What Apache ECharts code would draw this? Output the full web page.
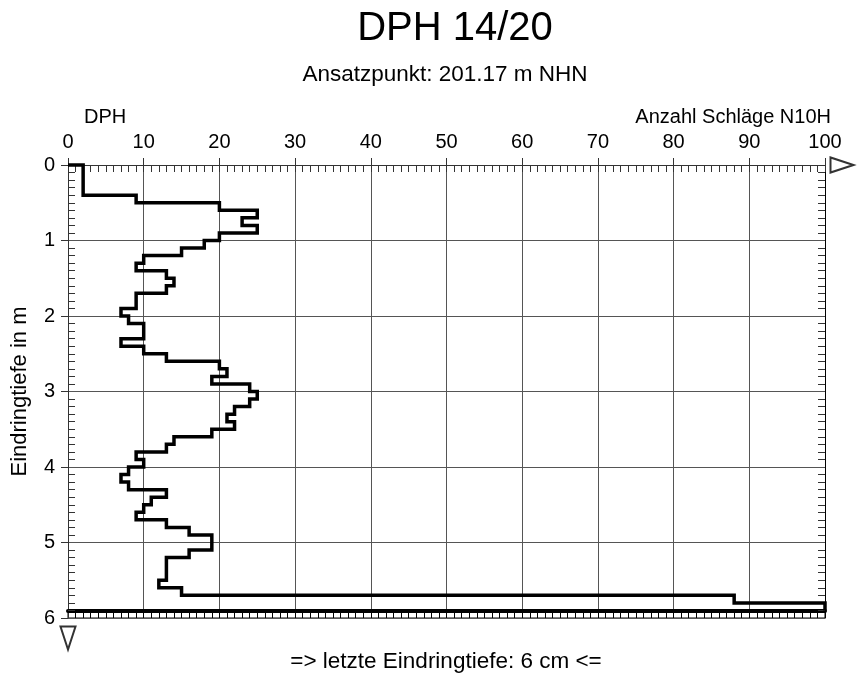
<!DOCTYPE html>
<html><head><meta charset="utf-8">
<script src="https://cdn.jsdelivr.net/npm/echarts@6/dist/echarts.min.js"></script>
<style>html,body{margin:0;padding:0;background:#fff}#c{width:857px;height:680px}</style>
</head><body><div id="c"></div>
<script>
const titleText = 'DPH 14/20';
const subtitleText = 'Ansatzpunkt: 201.17 m NHN';
const leftLabel = 'DPH';
const xAxisName = 'Anzahl Schläge N10H';
const yAxisName = 'Eindringtiefe in m';
const footerText = '=> letzte Eindringtiefe: 6 cm <=';

const xMin = 0, xMax = 100, xStep = 10;
const yMin = 0, yMax = 6, yStep = 1;

const depthFrom = [0.0,0.1,0.2,0.3,0.4,0.5,0.6,0.7,0.8,0.9,
  1.0,1.1,1.2,1.3,1.4,1.5,1.6,1.7,1.8,1.9,
  2.0,2.1,2.2,2.3,2.4,2.5,2.6,2.7,2.8,2.9,
  3.0,3.1,3.2,3.3,3.4,3.5,3.6,3.7,3.8,3.9,
  4.0,4.1,4.2,4.3,4.4,4.5,4.6,4.7,4.8,4.9,
  5.0,5.1,5.2,5.3,5.4,5.5,5.6,5.7,5.8];
const depthTo = [0.1,0.2,0.3,0.4,0.5,0.6,0.7,0.8,0.9,1.0,
  1.1,1.2,1.3,1.4,1.5,1.6,1.7,1.8,1.9,2.0,
  2.1,2.2,2.3,2.4,2.5,2.6,2.7,2.8,2.9,3.0,
  3.1,3.2,3.3,3.4,3.5,3.6,3.7,3.8,3.9,4.0,
  4.1,4.2,4.3,4.4,4.5,4.6,4.7,4.8,4.9,5.0,
  5.1,5.2,5.3,5.4,5.5,5.6,5.7,5.8,5.9];
const blows = [2,2,2,2,9,20,25,23,25,20,
  18,15,10,9,13,14,13,9,9,7,
  8,10,10,7,10,13,20,21,19,24,
  25,24,22,21,22,19,14,13,9,10,
  8,7,8,13,11,10,9,13,16,19,
  19,16,13,13,13,12,15,88,100];

const points = [[0, depthFrom[0]]];
for (let i = 0; i < blows.length; i++) {
  points.push([blows[i], depthFrom[i]]);
  points.push([blows[i], depthTo[i]]);
}

const FONT = "'Liberation Sans', Arial, sans-serif";
const G = {left: 68, right: 32, top: 165, height: 453};

const chart = echarts.init(document.getElementById('c'), null, {renderer: 'canvas'});
chart.setOption({
  backgroundColor: '#fff',
  animation: false,
  grid: [
    {left: G.left, right: G.right, top: G.top, height: G.height, containLabel: false},
    {left: G.left, right: G.right, top: 611, height: 7, show: true, borderColor: '#000', borderWidth: 1, backgroundColor: 'transparent'}
  ],
  xAxis: [
    {type: 'value', gridIndex: 0, position: 'top', min: xMin, max: xMax, interval: xStep,
     axisLine: {show: true, lineStyle: {color: '#333', width: 1}, symbol: ['none', 'emptyTriangle'], symbolSize: [15, 23], symbolOffset: [0, 17]},
     axisTick: {show: true, inside: false, length: 7, lineStyle: {color: '#333'}},
     axisLabel: {show: true, margin: 13, color: '#000', fontSize: 20, fontFamily: FONT},
     splitLine: {show: true, lineStyle: {color: '#555', width: 1}}},
    {type: 'value', gridIndex: 0, position: 'top', min: xMin, max: xMax, interval: xStep,
     axisLine: {show: false},
     axisTick: {show: true, inside: true, length: 7, lineStyle: {color: '#333'}},
     minorTick: {show: true, splitNumber: 10, length: 7, lineStyle: {color: '#333'}},
     axisLabel: {show: false}, splitLine: {show: false}},
    {type: 'value', gridIndex: 1, position: 'top', min: xMin, max: xMax, interval: 1,
     axisLine: {show: true, onZero: false, lineStyle: {color: '#000', width: 4}},
     axisTick: {show: false}, axisLabel: {show: false},
     splitLine: {show: true, lineStyle: {color: '#000', width: 1}}}
  ],
  yAxis: [
    {type: 'value', gridIndex: 0, inverse: true, min: yMin, max: yMax, interval: yStep,
     name: yAxisName, nameLocation: 'middle', nameRotate: 90, nameGap: 37,
     nameTextStyle: {color: '#000', fontSize: 22, fontFamily: FONT},
     axisLine: {show: true, lineStyle: {color: '#333', width: 1}, symbol: ['emptyTriangle', 'none'], symbolSize: [15, 23], symbolOffset: [-20, 0]},
     axisTick: {show: true, inside: false, length: 7, lineStyle: {color: '#333'}},
     axisLabel: {show: true, margin: 13, color: '#000', fontSize: 20, fontFamily: FONT},
     splitLine: {show: true, lineStyle: {color: '#555', width: 1}}},
    {type: 'value', gridIndex: 0, inverse: true, position: 'left', min: yMin, max: yMax, interval: yStep,
     axisLine: {show: false},
     axisTick: {show: false, inside: true, length: 7},
     minorTick: {show: true, splitNumber: 10, length: 7, lineStyle: {color: '#333'}},
     axisLabel: {show: false}, splitLine: {show: false}},
    {type: 'value', gridIndex: 0, inverse: true, position: 'right', min: yMin, max: yMax, interval: yStep,
     axisLine: {show: true, lineStyle: {color: '#000'}},
     axisTick: {show: false, inside: true, length: 7},
     minorTick: {show: true, splitNumber: 10, length: 7, lineStyle: {color: '#333'}},
     axisLabel: {show: false}, splitLine: {show: false}},
    {type: 'value', gridIndex: 1, min: 0, max: 1, axisLine: {show: false}, axisTick: {show: false}, axisLabel: {show: false}, splitLine: {show: false}}
  ],
  series: [{
    type: 'line', xAxisIndex: 0, yAxisIndex: 0, data: points,
    showSymbol: false, symbol: 'none', clip: false,
    lineStyle: {color: '#000', width: 3.5, join: 'miter'},
    z: 5
  }, {
    type: 'line', xAxisIndex: 2, yAxisIndex: 3, data: [], silent: true
  }],
  graphic: [
    {type: 'text', style: {x: 455, y: 29, text: titleText, fontSize: 40, fontFamily: FONT, fill: '#000', textAlign: 'center', textVerticalAlign: 'middle'}},
    {type: 'text', style: {x: 445, y: 75, text: subtitleText, fontSize: 22.5, fontFamily: FONT, fill: '#000', textAlign: 'center', textVerticalAlign: 'middle'}},
    {type: 'text', style: {x: 84, y: 117, text: leftLabel, fontSize: 20, fontFamily: FONT, fill: '#000', textAlign: 'left', textVerticalAlign: 'middle'}},
    {type: 'text', style: {x: 831, y: 117, text: xAxisName, fontSize: 20, fontFamily: FONT, fill: '#000', textAlign: 'right', textVerticalAlign: 'middle'}},
    {type: 'text', style: {x: 446, y: 662, text: footerText, fontSize: 22.5, fontFamily: FONT, fill: '#000', textAlign: 'center', textVerticalAlign: 'middle'}}
  ]
});
</script></body></html>
